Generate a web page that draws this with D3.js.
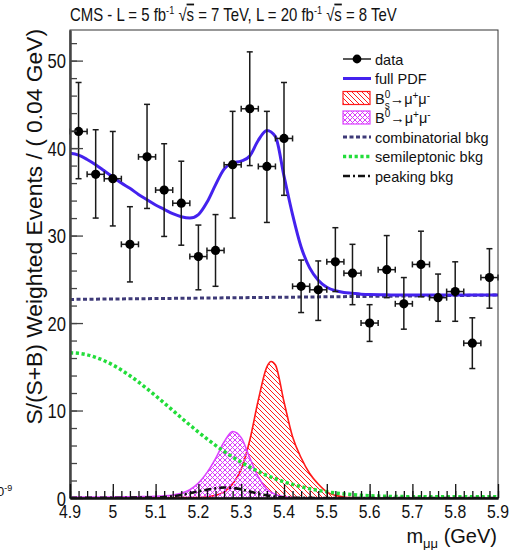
<!DOCTYPE html>
<html><head><meta charset="utf-8">
<script src="https://cdn.jsdelivr.net/npm/d3@7"></script>
<style>
body{margin:0;background:#fff}
svg{display:block}
text{font-family:"Liberation Sans",Arial,Helvetica,sans-serif;fill:#111}
</style>
</head><body>
<svg id="c" width="512" height="550"></svg>
<script>
// ---------------- data ----------------
const binCenters = [4.92,4.96,5.00,5.04,5.08,5.12,5.16,5.20,5.24,5.28,5.32,5.36,5.40,5.44,5.48,5.52,5.56,5.60,5.64,5.68,5.72,5.76,5.80,5.84,5.88];
const dataY   = [41.9,37.0,36.5,29.0,39.0,35.2,33.7,27.6,28.3,38.1,44.5,37.9,41.1,24.2,23.8,27.0,25.7,20.0,26.1,22.2,26.7,22.9,23.6,17.7,25.2];
const errHigh = [5.6,5.1,5.4,4.3,6.0,5.3,4.8,3.6,4.1,6.1,6.5,6.3,6.4,3.0,3.3,3.9,3.3,2.1,3.9,3.0,3.8,2.7,3.4,2.9,3.3];
const errLow  = [5.4,5.0,5.4,4.3,5.9,5.3,4.8,3.8,4.1,6.1,6.5,6.4,6.5,3.0,3.5,3.4,3.6,2.1,3.2,2.9,3.7,2.7,3.4,2.9,3.5];
const binHalfWidth = 0.02;

const pdfX = [4.90,4.92,4.94,4.96,4.98,5.00,5.02,5.04,5.06,5.08,5.10,5.12,5.14,5.16,5.18,5.20,5.22,5.24,5.26,5.28,5.30,5.32,5.34,5.36,5.38,5.40,5.42,5.44,5.46,5.48,5.50,5.52,5.54,5.56,5.58,5.60,5.65,5.70,5.80,5.90];
const pdfY = [39.4,39.2,38.7,38.1,37.4,36.7,36.0,35.4,34.7,34.1,33.5,33.0,32.5,32.15,32.0,32.4,33.8,35.8,37.6,38.3,38.5,39.1,40.9,42.0,41.3,36.8,32.4,28.7,26.3,24.9,24.1,23.7,23.5,23.4,23.3,23.25,23.22,23.2,23.2,23.2];

const combX = [4.90,5.90];
const combY = [22.7,23.2];

const semiX = [4.90,4.92,4.94,4.96,4.98,5.00,5.02,5.04,5.06,5.08,5.10,5.12,5.14,5.16,5.18,5.20,5.22,5.24,5.26,5.28,5.30,5.32,5.34,5.36,5.38,5.40,5.42,5.44,5.46,5.48,5.50,5.52,5.54,5.56,5.58,5.60,5.62,5.64,5.66,5.68,5.70,5.80,5.90];
const semiY = [16.6,16.54,16.37,16.08,15.69,15.21,14.63,13.98,13.26,12.49,11.69,10.86,10.02,9.17,8.34,7.54,6.76,6.02,5.33,4.68,4.08,3.53,3.04,2.59,2.20,1.85,1.55,1.29,1.06,0.87,0.71,0.57,0.46,0.38,0.31,0.26,0.22,0.19,0.17,0.16,0.15,0.15,0.15];

const bsX = [4.90,5.00,5.10,5.16,5.20,5.22,5.24,5.26,5.28,5.30,5.32,5.34,5.36,5.37,5.38,5.40,5.42,5.44,5.46,5.48,5.50,5.52,5.54,5.56,5.60,5.70,5.90];
const bsY = [0,0.01,0.02,0.04,0.06,0.12,0.3,0.7,1.6,3.3,6.6,11.2,15.0,15.6,15.2,11.0,7.0,4.6,2.8,1.6,0.7,0.3,0.12,0.05,0.02,0,0];

const bdX = [4.90,5.00,5.06,5.10,5.12,5.14,5.16,5.18,5.20,5.22,5.24,5.26,5.28,5.30,5.32,5.34,5.36,5.38,5.40,5.42,5.46,5.50,5.90];
const bdY = [0.1,0.12,0.15,0.2,0.25,0.35,0.55,0.95,1.7,2.9,4.5,6.4,7.6,6.9,4.6,2.4,1.0,0.4,0.15,0.05,0.01,0,0];

const pkX = [4.90,5.00,5.10,5.12,5.14,5.16,5.18,5.20,5.22,5.24,5.26,5.28,5.30,5.32,5.34,5.36,5.38,5.40,5.44,5.50,5.90];
const pkY = [0.02,0.03,0.06,0.1,0.2,0.35,0.55,0.75,0.95,1.1,1.2,1.15,1.0,0.75,0.5,0.3,0.15,0.08,0.02,0,0];

const xTickValues = [4.9,5.0,5.1,5.2,5.3,5.4,5.5,5.6,5.7,5.8,5.9];
const xTickLabels = ["4.9","5","5.1","5.2","5.3","5.4","5.5","5.6","5.7","5.8","5.9"];
const yTickValues = [0,10,20,30,40,50];
const yTickLabels = ["0","10","20","30","40","50"];

// ---------------- layout ----------------
const svg = d3.select("#c");
const L = 70, R = 498, T = 30, B = 498;
const x = d3.scaleLinear().domain([4.9,5.9]).range([L,R]);
const y = d3.scaleLinear().domain([0,53.5]).range([B,T]);

const defs = svg.append("defs");
const pr = defs.append("pattern").attr("id","hatchRed").attr("patternUnits","userSpaceOnUse")
  .attr("width",5).attr("height",5);
pr.append("path").attr("d","M-1,-1 L6,6 M-1,4 L1,6 M4,-1 L6,1").attr("stroke","#ff1a1a").attr("stroke-width",1).attr("fill","none");
const pm = defs.append("pattern").attr("id","hatchMag").attr("patternUnits","userSpaceOnUse")
  .attr("width",5).attr("height",5);
pm.append("path").attr("d","M0,0 L5,5 M5,0 L0,5").attr("stroke","#d83cf8").attr("stroke-width",1).attr("fill","none");
defs.append("clipPath").attr("id","plotClip").append("rect").attr("x",L).attr("y",T).attr("width",R-L).attr("height",B-T);

const plot = svg.append("g").attr("clip-path","url(#plotClip)");

function pts(xs, ys){ return xs.map((v,i)=>[v, ys[i]]); }
const line = d3.line().x(d=>x(d[0])).y(d=>y(d[1])).curve(d3.curveMonotoneX);
const area = d3.area().x(d=>x(d[0])).y0(y(0)).y1(d=>y(d[1])).curve(d3.curveMonotoneX);

// signal areas
plot.append("path").attr("d", area(pts(bsX,bsY))).attr("fill","url(#hatchRed)");
plot.append("path").attr("d", line(pts(bsX,bsY))).attr("fill","none").attr("stroke","#ff1a1a").attr("stroke-width",1.6);
plot.append("path").attr("d", area(pts(bdX,bdY))).attr("fill","url(#hatchMag)");
plot.append("path").attr("d", line(pts(bdX,bdY))).attr("fill","none").attr("stroke","#dc44ff").attr("stroke-width",1.6);

// background components
plot.append("path").attr("d", line(pts(combX,combY))).attr("fill","none")
  .attr("stroke","#3e3a78").attr("stroke-width",3).attr("stroke-dasharray","4,2.5");
plot.append("path").attr("d", line(pts(semiX,semiY))).attr("fill","none")
  .attr("stroke","#22dd3a").attr("stroke-width",3.5).attr("stroke-dasharray","3.2,2.6");
plot.append("path").attr("d", line(pts(pkX,pkY))).attr("fill","none")
  .attr("stroke","#111").attr("stroke-width",2.6).attr("stroke-dasharray","7,3,2,3");

// full PDF
plot.append("path").attr("d", line(pts(pdfX,pdfY))).attr("fill","none")
  .attr("stroke","#4422ee").attr("stroke-width",3);

// data
const dg = svg.append("g");
binCenters.forEach((c,i)=>{
  const cx = x(c), cy = y(dataY[i]);
  const yt = y(dataY[i]+errHigh[i]), yb = y(dataY[i]-errLow[i]);
  const xl = x(c-binHalfWidth), xr = x(c+binHalfWidth);
  const g = dg.append("g").attr("stroke","#1a1a1a").attr("stroke-width",1.5);
  g.append("line").attr("x1",cx).attr("x2",cx).attr("y1",yt).attr("y2",yb);
  g.append("line").attr("x1",xl).attr("x2",xr).attr("y1",cy).attr("y2",cy);
  g.append("line").attr("x1",cx-3).attr("x2",cx+3).attr("y1",yt).attr("y2",yt);
  g.append("line").attr("x1",cx-3).attr("x2",cx+3).attr("y1",yb).attr("y2",yb);
  g.append("line").attr("x1",xl).attr("x2",xl).attr("y1",cy-3).attr("y2",cy+3);
  g.append("line").attr("x1",xr).attr("x2",xr).attr("y1",cy-3).attr("y2",cy+3);
  dg.append("circle").attr("cx",cx).attr("cy",cy).attr("r",4.6).attr("fill","#000");
});

// frame
svg.append("rect").attr("x",L).attr("y",T).attr("width",R-L).attr("height",B-T)
  .attr("fill","none").attr("stroke","#333").attr("stroke-width",1);

// axes (ticks inward)
const yMinor = d3.range(0, 53.5, 2);
const xMinor = d3.range(4.9, 5.9001, 0.02);
function styleAxis(g, col, w){ g.select(".domain").attr("stroke",col).attr("stroke-width",w); g.selectAll(".tick line").attr("stroke",col).attr("stroke-width",1.3); g.selectAll("text").remove(); }
svg.append("g").attr("transform",`translate(${L},0)`).call(d3.axisLeft(y).tickValues(yMinor).tickSize(-7).tickSizeOuter(0).tickFormat("")).call(g=>styleAxis(g,"#444",2));
svg.append("g").attr("transform",`translate(${L},0)`).call(d3.axisLeft(y).tickValues(yTickValues).tickSize(-13).tickSizeOuter(0).tickFormat("")).call(g=>styleAxis(g,"#444",2));
svg.append("g").attr("transform",`translate(0,${B})`).call(d3.axisBottom(x).tickValues(xMinor).tickSize(-7).tickSizeOuter(0).tickFormat("")).call(g=>styleAxis(g,"#111",2));
svg.append("g").attr("transform",`translate(0,${B})`).call(d3.axisBottom(x).tickValues(xTickValues).tickSize(-14).tickSizeOuter(0).tickFormat("")).call(g=>styleAxis(g,"#111",2));

// tick labels (narrow font look)
const sx = 0.83;
yTickValues.forEach((v,i)=>{
  svg.append("g").attr("transform",`translate(66,${y(v)+7.5}) scale(${sx},1)`)
    .append("text").attr("text-anchor","end").attr("font-size",20).text(yTickLabels[i]);
});
xTickValues.forEach((v,i)=>{
  svg.append("g").attr("transform",`translate(${x(v)},518) scale(${sx},1)`)
    .append("text").attr("text-anchor","middle").attr("font-size",19).text(xTickLabels[i]);
});

// title
const tt = svg.append("g").attr("transform",`translate(70,21) scale(${sx},1)`).append("text").attr("font-size",18);
function addParts(t, parts){
  let pend = 0;
  parts.forEach(p=>{
    if(p.sup){
      t.append("tspan").attr("dy",pend-7).attr("font-size",11).text(p.t);
      pend = 7;
    } else {
      const s = t.append("tspan").attr("dy",pend).text(p.t);
      if(p.ov) s.style("text-decoration","overline");
      pend = 0;
    }
  });
}
addParts(tt, [{t:"CMS - L = 5 fb"},{t:"-1",sup:true},{t:" \u221A"},{t:"s",ov:true},{t:" = 7 TeV, L = 20 fb"},{t:"-1",sup:true},{t:" \u221A"},{t:"s",ov:true},{t:" = 8 TeV"}]);

// y-axis title
svg.append("text").attr("transform","translate(42,29) rotate(-90)").attr("text-anchor","end")
  .attr("font-size",22.8).text("S/(S+B) Weighted Events / ( 0.04 GeV)");

// x-axis title
const xt = svg.append("text").attr("x",497).attr("y",543).attr("text-anchor","end").attr("font-size",20);
xt.append("tspan").text("m");
xt.append("tspan").attr("dy",5).attr("font-size",13).text("\u03BC\u03BC");
xt.append("tspan").attr("dy",-5).text(" (GeV)");

// stray exponent at left edge
const ex = svg.append("text").attr("x",-3).attr("y",496).attr("font-size",13);
ex.append("tspan").text("0");
ex.append("tspan").attr("dy",-5).attr("font-size",9).text("-9");

// legend
const legendLabels = ["data","full PDF","Bs","Bd","combinatorial bkg","semileptonic bkg","peaking bkg"];
const rowY = [59,78.5,98,117.5,137,156.5,176];
const lx0 = 343, lx1 = 371, ltx = 375;
const lg = svg.append("g");
lg.append("line").attr("x1",lx0).attr("x2",lx1).attr("y1",rowY[0]).attr("y2",rowY[0]).attr("stroke","#222").attr("stroke-width",1.5);
lg.append("circle").attr("cx",(lx0+lx1)/2).attr("cy",rowY[0]).attr("r",4.4).attr("fill","#000");
lg.append("line").attr("x1",lx0).attr("x2",lx1).attr("y1",rowY[1]).attr("y2",rowY[1]).attr("stroke","#4422ee").attr("stroke-width",3);
lg.append("rect").attr("x",lx0).attr("y",rowY[2]-6.5).attr("width",lx1-lx0-1).attr("height",13).attr("fill","url(#hatchRed)").attr("stroke","#ff1a1a").attr("stroke-width",1.2);
lg.append("rect").attr("x",lx0).attr("y",rowY[3]-6.5).attr("width",lx1-lx0-1).attr("height",13).attr("fill","url(#hatchMag)").attr("stroke","#dc44ff").attr("stroke-width",1.2);
lg.append("line").attr("x1",lx0).attr("x2",lx1).attr("y1",rowY[4]).attr("y2",rowY[4]).attr("stroke","#3e3a78").attr("stroke-width",3).attr("stroke-dasharray","4,2.5");
lg.append("line").attr("x1",lx0).attr("x2",lx1).attr("y1",rowY[5]).attr("y2",rowY[5]).attr("stroke","#22dd3a").attr("stroke-width",3.5).attr("stroke-dasharray","3.2,2.6");
lg.append("line").attr("x1",lx0).attr("x2",lx1).attr("y1",rowY[6]).attr("y2",rowY[6]).attr("stroke","#111").attr("stroke-width",2.6).attr("stroke-dasharray","7,3,2,3");

const fs = 14.5;
[0,1,4,5,6].forEach(i=>{
  lg.append("text").attr("x",ltx).attr("y",rowY[i]+5.5).attr("font-size",fs).text(legendLabels[i]);
});
const t2 = lg.append("text").attr("x",ltx).attr("y",rowY[2]+5.5).attr("font-size",fs);
t2.append("tspan").text("B");
t2.append("tspan").attr("dy",-6).attr("font-size",10).text("0");
t2.append("tspan").attr("dx",-5.6).attr("dy",11).attr("font-size",10).text("s");
t2.append("tspan").attr("dy",-5).text("\u2192\u03BC");
t2.append("tspan").attr("dy",-5).attr("font-size",10).text("+");
t2.append("tspan").attr("dy",5).text("\u03BC");
t2.append("tspan").attr("dy",-5).attr("font-size",10).text("-");
const t3 = lg.append("text").attr("x",ltx).attr("y",rowY[3]+5.5).attr("font-size",fs);
t3.append("tspan").text("B");
t3.append("tspan").attr("dy",-6).attr("font-size",10).text("0");
t3.append("tspan").attr("dy",6).text("\u2192\u03BC");
t3.append("tspan").attr("dy",-5).attr("font-size",10).text("+");
t3.append("tspan").attr("dy",5).text("\u03BC");
t3.append("tspan").attr("dy",-5).attr("font-size",10).text("-");
</script>
</body></html>
